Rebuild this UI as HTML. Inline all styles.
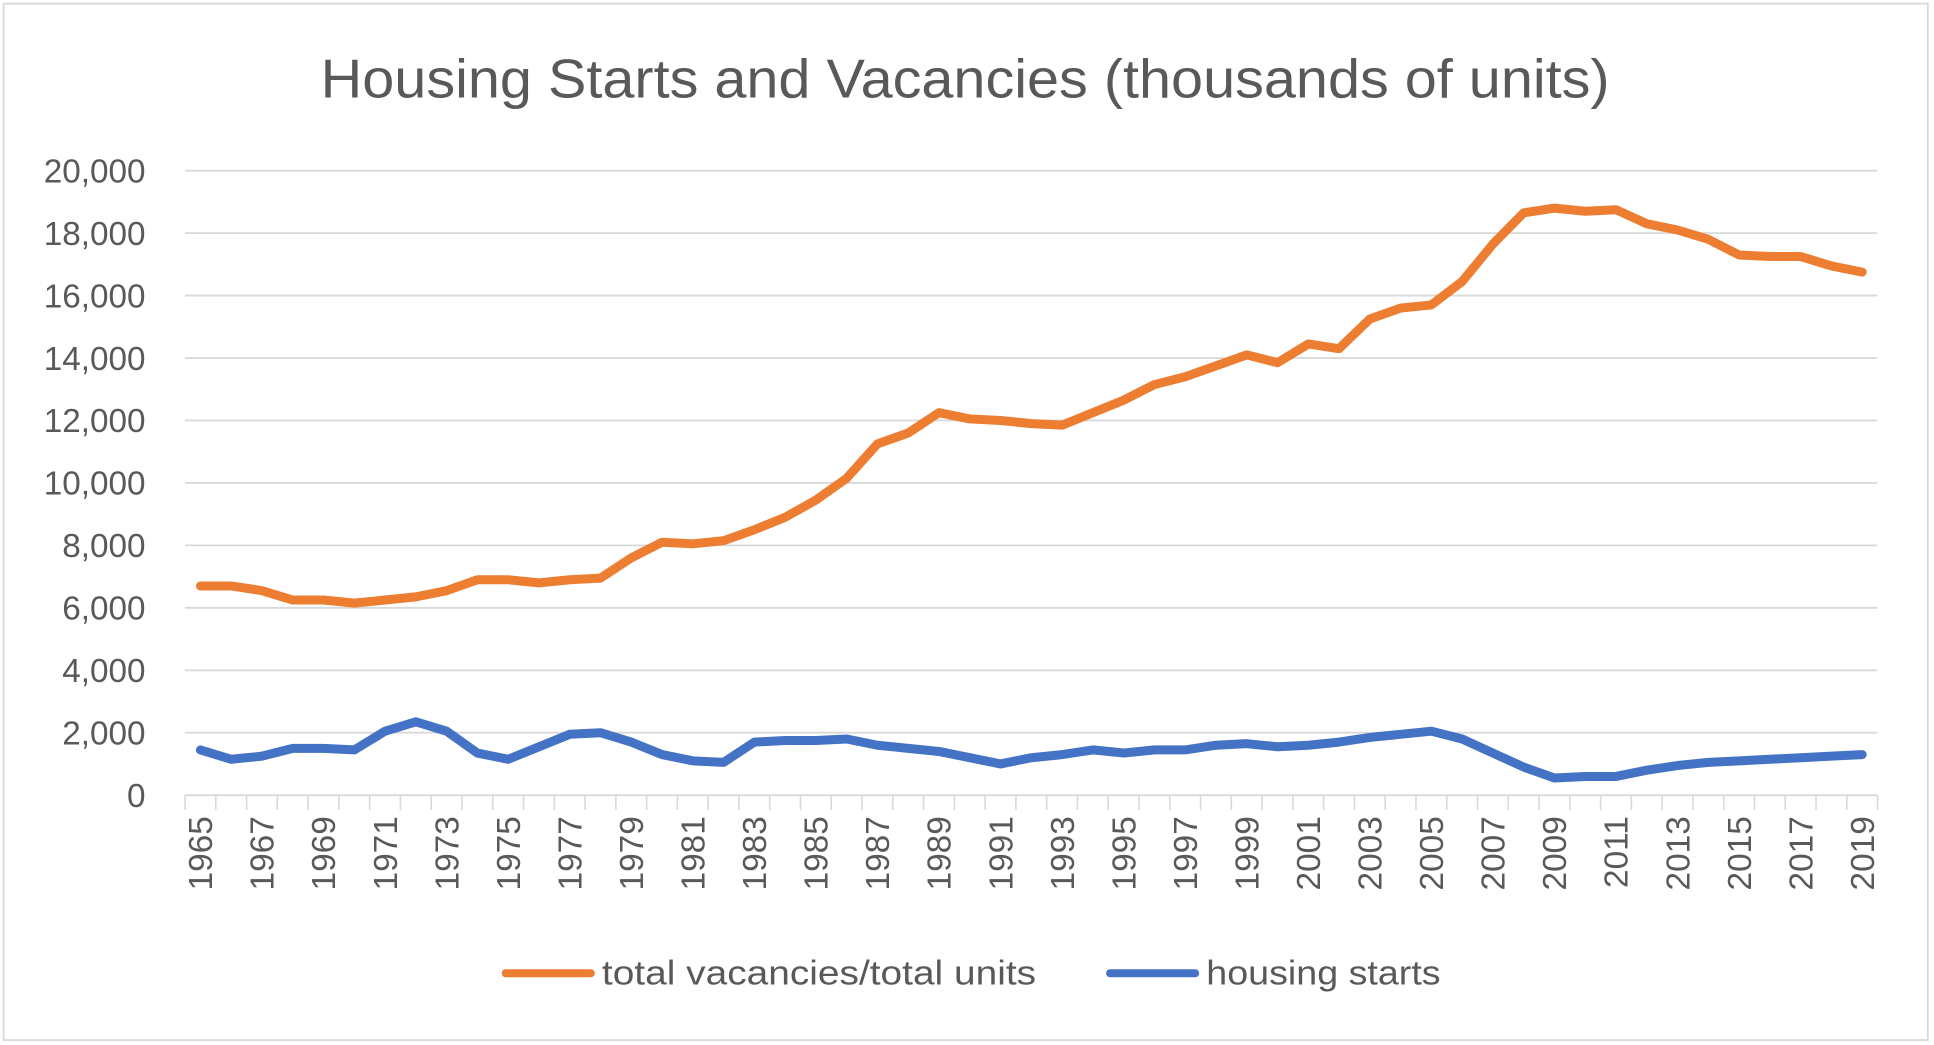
<!DOCTYPE html>
<html><head><meta charset="utf-8"><style>
html,body{margin:0;padding:0;background:#fff;}
svg{display:block;}
text{font-family:"Liberation Sans",sans-serif;fill:#595959;}
</style></head><body>
<svg width="1934" height="1045" viewBox="0 0 1568 845" preserveAspectRatio="none" xmlns="http://www.w3.org/2000/svg">
<rect x="0" y="0" width="1568" height="845" fill="#fff"/>
<rect x="3" y="3" width="1560" height="838" fill="none" stroke="#d9d9d9" stroke-width="1.5"/>
<text x="260" y="79" font-size="44" textLength="1045" lengthAdjust="spacingAndGlyphs">Housing Starts and Vacancies (thousands of units)</text>
<g stroke="#d9d9d9" stroke-width="1.5">
<line x1="150" x2="1522" y1="138" y2="138"/>
<line x1="150" x2="1522" y1="188.5" y2="188.5"/>
<line x1="150" x2="1522" y1="239" y2="239"/>
<line x1="150" x2="1522" y1="289.5" y2="289.5"/>
<line x1="150" x2="1522" y1="340" y2="340"/>
<line x1="150" x2="1522" y1="390.5" y2="390.5"/>
<line x1="150" x2="1522" y1="441" y2="441"/>
<line x1="150" x2="1522" y1="491.5" y2="491.5"/>
<line x1="150" x2="1522" y1="542" y2="542"/>
<line x1="150" x2="1522" y1="592.5" y2="592.5"/>
<line x1="150" x2="1522" y1="643" y2="643"/>
<line x1="149.35" x2="1523" y1="649" y2="649" stroke-width="12" stroke-dasharray="1.3 23.65"/>
</g>
<g font-size="27" text-anchor="end">
<text x="118" y="147.5">20,000</text>
<text x="118" y="198">18,000</text>
<text x="118" y="248.5">16,000</text>
<text x="118" y="299">14,000</text>
<text x="118" y="349.5">12,000</text>
<text x="118" y="400">10,000</text>
<text x="118" y="450.5">8,000</text>
<text x="118" y="501">6,000</text>
<text x="118" y="551.5">4,000</text>
<text x="118" y="602">2,000</text>
<text x="118" y="652.5">0</text>
</g>
<g font-size="27" text-anchor="end">
<text transform="translate(172,660) rotate(-90)">1965</text>
<text transform="translate(221.9,660) rotate(-90)">1967</text>
<text transform="translate(271.8,660) rotate(-90)">1969</text>
<text transform="translate(321.7,660) rotate(-90)">1971</text>
<text transform="translate(371.6,660) rotate(-90)">1973</text>
<text transform="translate(421.5,660) rotate(-90)">1975</text>
<text transform="translate(471.4,660) rotate(-90)">1977</text>
<text transform="translate(521.3,660) rotate(-90)">1979</text>
<text transform="translate(571.2,660) rotate(-90)">1981</text>
<text transform="translate(621.1,660) rotate(-90)">1983</text>
<text transform="translate(671,660) rotate(-90)">1985</text>
<text transform="translate(720.9,660) rotate(-90)">1987</text>
<text transform="translate(770.8,660) rotate(-90)">1989</text>
<text transform="translate(820.7,660) rotate(-90)">1991</text>
<text transform="translate(870.6,660) rotate(-90)">1993</text>
<text transform="translate(920.5,660) rotate(-90)">1995</text>
<text transform="translate(970.4,660) rotate(-90)">1997</text>
<text transform="translate(1020.3,660) rotate(-90)">1999</text>
<text transform="translate(1070.2,660) rotate(-90)">2001</text>
<text transform="translate(1120.1,660) rotate(-90)">2003</text>
<text transform="translate(1170,660) rotate(-90)">2005</text>
<text transform="translate(1219.9,660) rotate(-90)">2007</text>
<text transform="translate(1269.8,660) rotate(-90)">2009</text>
<text transform="translate(1319.7,660) rotate(-90)">2011</text>
<text transform="translate(1369.6,660) rotate(-90)">2013</text>
<text transform="translate(1419.5,660) rotate(-90)">2015</text>
<text transform="translate(1469.4,660) rotate(-90)">2017</text>
<text transform="translate(1519.3,660) rotate(-90)">2019</text>
</g>
<g transform="translate(162.5,643) scale(24.95,-0.02525)" fill="none" stroke-linejoin="round" stroke-linecap="round">
<polyline vector-effect="non-scaling-stroke" stroke="#ed7d31" stroke-width="9" points="0,6700 1,6700 2,6550 3,6250 4,6250 5,6150 6,6250 7,6350 8,6550 9,6900 10,6900 11,6800 12,6900 13,6950 14,7600 15,8100 16,8050 17,8150 18,8500 19,8900 20,9450 21,10150 22,11250 23,11600 24,12250 25,12050 26,12000 27,11900 28,11850 29,12250 30,12650 31,13150 32,13400 33,13750 34,14100 35,13850 36,14450 37,14300 38,15250 39,15600 40,15700 41,16450 42,17650 43,18650 44,18800 45,18700 46,18750 47,18300 48,18100 49,17800 50,17300 51,17250 52,17250 53,16950 54,16750"/>
<polyline vector-effect="non-scaling-stroke" stroke="#4472c4" stroke-width="9" points="0,1450 1,1150 2,1250 3,1500 4,1500 5,1450 6,2050 7,2350 8,2050 9,1350 10,1150 11,1550 12,1950 13,2000 14,1700 15,1300 16,1100 17,1050 18,1700 19,1750 20,1750 21,1800 22,1600 23,1500 24,1400 25,1200 26,1000 27,1200 28,1300 29,1450 30,1350 31,1450 32,1450 33,1600 34,1650 35,1550 36,1600 37,1700 38,1850 39,1950 40,2050 41,1800 42,1350 43,900 44,550 45,600 46,600 47,800 48,950 49,1050 50,1100 51,1150 52,1200 53,1250 54,1300"/>
</g>
<line x1="410" x2="479" y1="787" y2="787" stroke="#ed7d31" stroke-width="6.5" stroke-linecap="round"/>
<text x="488" y="796" font-size="28" textLength="352" lengthAdjust="spacingAndGlyphs">total vacancies/total units</text>
<line x1="900" x2="969" y1="787" y2="787" stroke="#4472c4" stroke-width="6.5" stroke-linecap="round"/>
<text x="978" y="796" font-size="28" textLength="190" lengthAdjust="spacingAndGlyphs">housing starts</text>
</svg>
</body></html>
